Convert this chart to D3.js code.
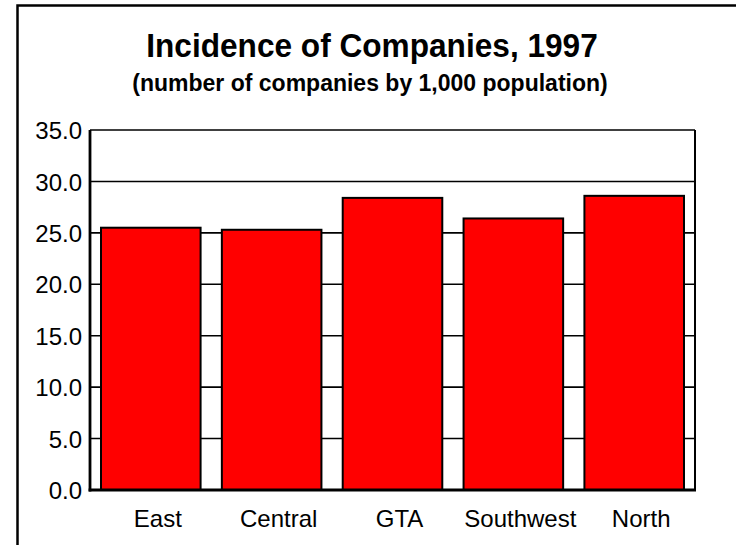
<!DOCTYPE html>
<html>
<head>
<meta charset="utf-8">
<script src="https://cdn.jsdelivr.net/npm/d3@7"></script>
<style>
  body { margin: 0; background: #fff; }
  svg { display: block; }
  text { font-family: "Liberation Sans", Arial, sans-serif; fill: #000; }
</style>
</head>
<body>
<div id="chart"></div>
<script>

// chart values
var regions = ["East", "Central", "GTA", "Southwest", "North"];
var companies = [25.5, 25.3, 28.4, 26.4, 28.6];
var yTicks = [0, 5, 10, 15, 20, 25, 30, 35];

var W = 736, H = 545;
var margin = {top: 130, right: 41, bottom: 55, left: 90},
    width = W - margin.left - margin.right,
    height = H - margin.top - margin.bottom;

var svg = d3.select("#chart").append("svg")
    .attr("width", W)
    .attr("height", H);

// outer frame (only top and left edges fall inside the picture)
svg.append("rect")
    .attr("x", 17.5).attr("y", 5.5)
    .attr("width", W + 20).attr("height", H + 20)
    .attr("fill", "none")
    .attr("stroke", "#000")
    .attr("stroke-width", 2.5);

// title is a little condensed in the original
svg.append("text")
    .attr("transform", "translate(372,57) scale(0.93,1)")
    .attr("text-anchor", "middle")
    .style("font-size", "34px")
    .style("font-weight", "bold")
    .text("Incidence of Companies, 1997");

svg.append("text")
    .attr("x", 370).attr("y", 91)
    .attr("text-anchor", "middle")
    .style("font-size", "23px")
    .style("font-weight", "bold")
    .text("(number of companies by 1,000 population)");

var plot = svg.append("g")
    .attr("transform", "translate(" + margin.left + "," + margin.top + ")");

var x = d3.scaleBand()
    .domain(regions)
    .range([0, width])
    .paddingInner(0.176)
    .paddingOuter(0.091);

var y = d3.scaleLinear()
    .domain([0, 35])
    .range([height, 0]);

// gridlines
plot.append("g")
  .selectAll("line")
  .data(yTicks.filter(function(d) { return d > 0; }))
  .enter().append("line")
    .attr("x1", 0).attr("x2", width)
    .attr("y1", function(d) { return y(d); })
    .attr("y2", function(d) { return y(d); })
    .attr("stroke", "#000")
    .attr("stroke-width", 1.6);

// right border
plot.append("line")
    .attr("x1", width).attr("x2", width)
    .attr("y1", 0).attr("y2", height)
    .attr("stroke", "#000")
    .attr("stroke-width", 2);

// bars
plot.selectAll(".bar")
    .data(companies)
  .enter().append("rect")
    .attr("class", "bar")
    .attr("x", function(d, i) { return x(regions[i]); })
    .attr("width", x.bandwidth())
    .attr("y", function(d) { return y(d); })
    .attr("height", function(d) { return height - y(d); })
    .attr("fill", "#ff0000")
    .attr("stroke", "#000")
    .attr("stroke-width", 2);

// y axis
var yAxis = plot.append("g")
    .call(d3.axisLeft(y).tickValues(yTicks).tickSize(0).tickPadding(8)
      .tickFormat(d3.format(".1f")));
yAxis.select(".domain").remove();
yAxis.selectAll(".tick text")
    .attr("font-family", null)
    .attr("dy", "0.36em")
    .style("font-size", "24px");

plot.append("line")
    .attr("x1", 0).attr("x2", 0)
    .attr("y1", 0).attr("y2", height + 1.5)
    .attr("stroke", "#000")
    .attr("stroke-width", 2.8);

// x axis
var xAxis = plot.append("g")
    .attr("transform", "translate(0," + height + ")")
    .call(d3.axisBottom(x).tickSize(0).tickPadding(0));
xAxis.select(".domain").remove();
xAxis.selectAll(".tick text")
    .attr("font-family", null)
    .attr("y", 37).attr("dy", null)
    .attr("x", 7)
    .style("font-size", "24px");

plot.append("line")
    .attr("x1", -1.4).attr("x2", width + 1)
    .attr("y1", height).attr("y2", height)
    .attr("stroke", "#000")
    .attr("stroke-width", 3);

</script>
</body>
</html>
